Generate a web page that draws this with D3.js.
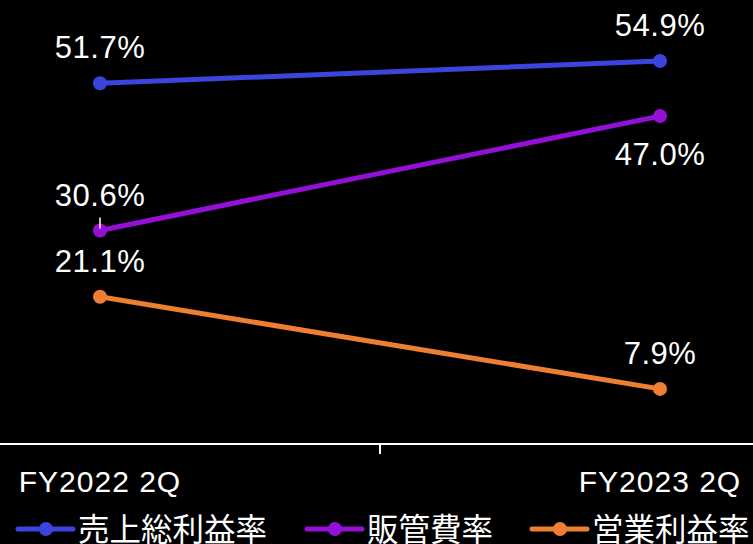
<!DOCTYPE html>
<html>
<head>
<meta charset="utf-8">
<script src="https://cdn.jsdelivr.net/npm/d3@7"></script>
<style>
  html, body { margin: 0; padding: 0; background: #000; }
  svg { display: block; }
</style>
</head>
<body>
<svg id="chart" width="753" height="544"></svg>
<script>
// Periods on the x axis
const categories = ["FY2022 2Q", "FY2023 2Q"];

// Series names and their values (%)
const seriesNames = ["売上総利益率", "販管費率", "営業利益率"];
const grossMargin = [51.7, 54.9];
const sgaRatio = [30.6, 47.0];
const operatingMargin = [21.1, 7.9];
const seriesColors = ["#3b44dc", "#9410d8", "#ee7e32"];

// Label placement per point: -1 = above, +1 = below
const labelSide = [[-1, -1], [-1, 1], [-1, -1]];

const seriesValues = [grossMargin, sgaRatio, operatingMargin];
const series = seriesNames.map((name, i) => ({
  name, color: seriesColors[i], values: seriesValues[i], side: labelSide[i]
}));

const W = 753, H = 544;
const svg = d3.select("#chart");
const latin = "'Liberation Sans', Arial, Helvetica, sans-serif";
const cjk = "'Noto Sans CJK JP', 'Liberation Sans', sans-serif";

const x = d3.scalePoint().domain(categories).range([100, 660]);
const y = d3.scaleLinear().domain([0, 60]).range([444, 25.4]);

// Category axis along zero
const axisY = y(0);
svg.append("line")
  .attr("x1", 0).attr("x2", W)
  .attr("y1", axisY).attr("y2", axisY)
  .attr("stroke", "#fff").attr("stroke-width", 2);

// Divider tick between the two categories
const mid = (x(categories[0]) + x(categories[1])) / 2;
svg.append("line")
  .attr("x1", mid).attr("x2", mid)
  .attr("y1", axisY).attr("y2", axisY + 10)
  .attr("stroke", "#fff").attr("stroke-width", 2);

svg.selectAll("text.cat")
  .data(categories)
  .join("text")
  .attr("class", "cat")
  .attr("x", d => x(d))
  .attr("y", 492)
  .attr("text-anchor", "middle")
  .attr("fill", "#fff")
  .style("font-family", latin)
  .style("font-size", "30px")
  .style("letter-spacing", "1px")
  .text(d => d);

const line = d3.line()
  .x((d, i) => x(categories[i]))
  .y(d => y(d));

const g = svg.selectAll("g.series")
  .data(series)
  .join("g")
  .attr("class", "series");

g.append("path")
  .attr("d", d => line(d.values))
  .attr("fill", "none")
  .attr("stroke", d => d.color)
  .attr("stroke-width", 5)
  .attr("stroke-linecap", "round");

g.selectAll("circle")
  .data(d => d.values.map((v, i) => ({ v, i, color: d.color })))
  .join("circle")
  .attr("cx", d => x(categories[d.i]))
  .attr("cy", d => y(d.v))
  .attr("r", 7)
  .attr("fill", d => d.color);

// Value labels
g.selectAll("text.val")
  .data(d => d.values.map((v, i) => ({ v, i, side: d.side[i] })))
  .join("text")
  .attr("class", "val")
  .attr("x", d => x(categories[d.i]))
  .attr("y", d => d.side < 0 ? y(d.v) - 25 : y(d.v) + 49)
  .attr("text-anchor", "middle")
  .attr("fill", "#fff")
  .style("font-family", latin)
  .style("font-size", "31px")
  .style("letter-spacing", "0.5px")
  .text(d => d.v.toFixed(1) + "%");

// Short leader from the SG&A label to its first point
svg.append("line")
  .attr("x1", x(categories[0])).attr("x2", x(categories[0]))
  .attr("y1", y(sgaRatio[0]) - 13).attr("y2", y(sgaRatio[0]) - 2)
  .attr("stroke", "#fff").attr("stroke-width", 1.5);

// Legend
const legendX = [18, 307, 532];
const legendY = 529;
const lg = svg.selectAll("g.legend")
  .data(series)
  .join("g")
  .attr("class", "legend")
  .attr("transform", (d, i) => `translate(${legendX[i]},${legendY})`);

lg.append("line")
  .attr("x1", 0).attr("x2", 55)
  .attr("y1", 0).attr("y2", 0)
  .attr("stroke", d => d.color)
  .attr("stroke-width", 5)
  .attr("stroke-linecap", "round");
lg.append("circle")
  .attr("cx", 28).attr("cy", 0).attr("r", 7)
  .attr("fill", d => d.color);
lg.append("text")
  .attr("x", 60)
  .attr("y", 12)
  .attr("fill", "#fff")
  .style("font-family", cjk)
  .style("font-size", "31.5px")
  .text(d => d.name);
</script>
</body>
</html>
